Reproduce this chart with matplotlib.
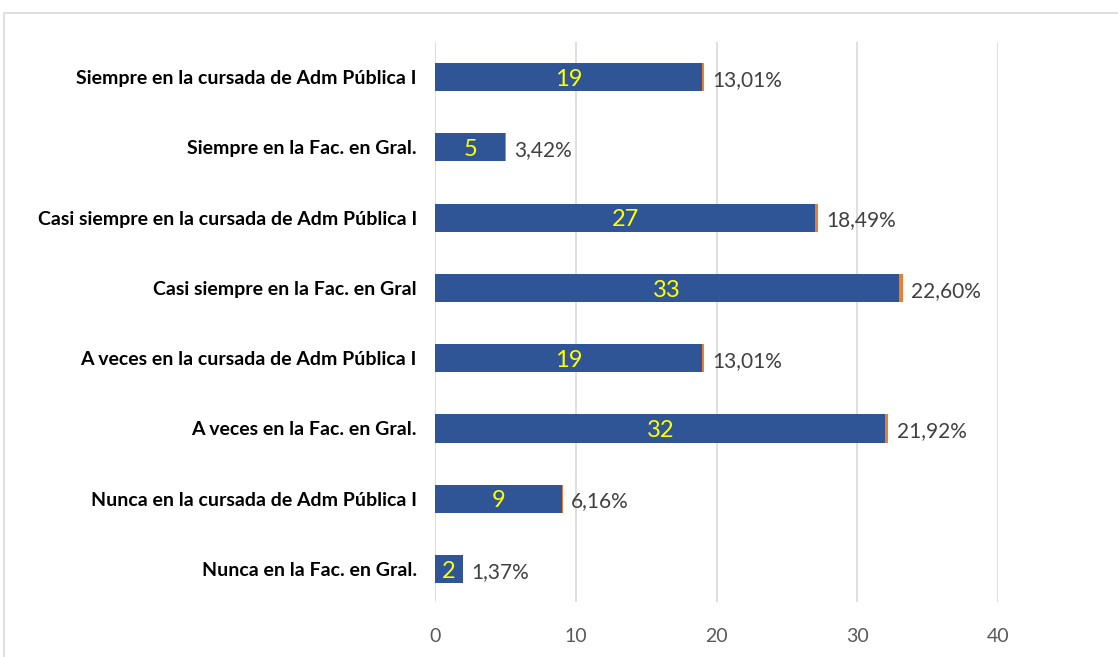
import matplotlib.pyplot as plt
from matplotlib.patches import Rectangle

categorias = [
    "Nunca en la Fac. en Gral.",
    "Nunca en la cursada de Adm Pública I",
    "A veces en la Fac. en Gral.",
    "A veces en la cursada de Adm Pública I",
    "Casi siempre en la Fac. en Gral",
    "Casi siempre en la cursada de Adm Pública I",
    "Siempre en la Fac. en Gral.",
    "Siempre en la cursada de Adm Pública I",
]
cantidad = [2, 9, 32, 19, 33, 27, 5, 19]
porcentaje = [0.0137, 0.0616, 0.2192, 0.1301, 0.2260, 0.1849, 0.0342, 0.1301]
etiquetas_pct = ["1,37%", "6,16%", "21,92%", "13,01%", "22,60%", "18,49%", "3,42%", "13,01%"]

azul = "#2F5597"
naranja = "#ED7D31"

fig = plt.figure(figsize=(11.18, 6.57), dpi=100)
ax = fig.add_axes([435 / 1118, 1 - 602 / 657, (998 - 435) / 1118, (602 - 42) / 657])

# marco del grafico
fig.patches.append(Rectangle((4 / 1118, -0.05), 1.1, 1 - 13 / 657 + 0.05,
                             transform=fig.transFigure, fill=False,
                             edgecolor="#D9D9D9", linewidth=1.2))

y = range(len(categorias))
ax.barh(y, cantidad, height=0.4, color=azul, zorder=3)
ax.barh(y, porcentaje, left=cantidad, height=0.4, color=naranja, zorder=3)

for i in y:
    ax.text(cantidad[i] / 2, i - 0.03, str(cantidad[i]), color="#FFFF00",
            ha="center", va="center", fontsize=17, family="Lato", zorder=4)
    ax.annotate(etiquetas_pct[i], (cantidad[i] + porcentaje[i], i),
                xytext=(6, -2), textcoords="offset points", ha="left", va="center",
                color="#404040", fontsize=15, family="Lato")

ax.set_xlim(0, 40)
ax.set_ylim(-0.47, 7.5)
ax.set_xticks([0, 10, 20, 30, 40])
ax.set_yticks(list(y))
ax.set_yticklabels(categorias, fontsize=14, fontweight="bold", family="Lato")
ax.grid(axis="x", color="#D9D9D9", linewidth=1.2, zorder=0)
for s in ax.spines.values():
    s.set_visible(False)
ax.tick_params(axis="y", length=0, pad=13)
ax.tick_params(axis="x", length=0, pad=19, labelsize=14, labelcolor="#595959")
for lab in ax.get_xticklabels():
    lab.set_family("Lato")

fig.savefig("out.png", dpi=100)
